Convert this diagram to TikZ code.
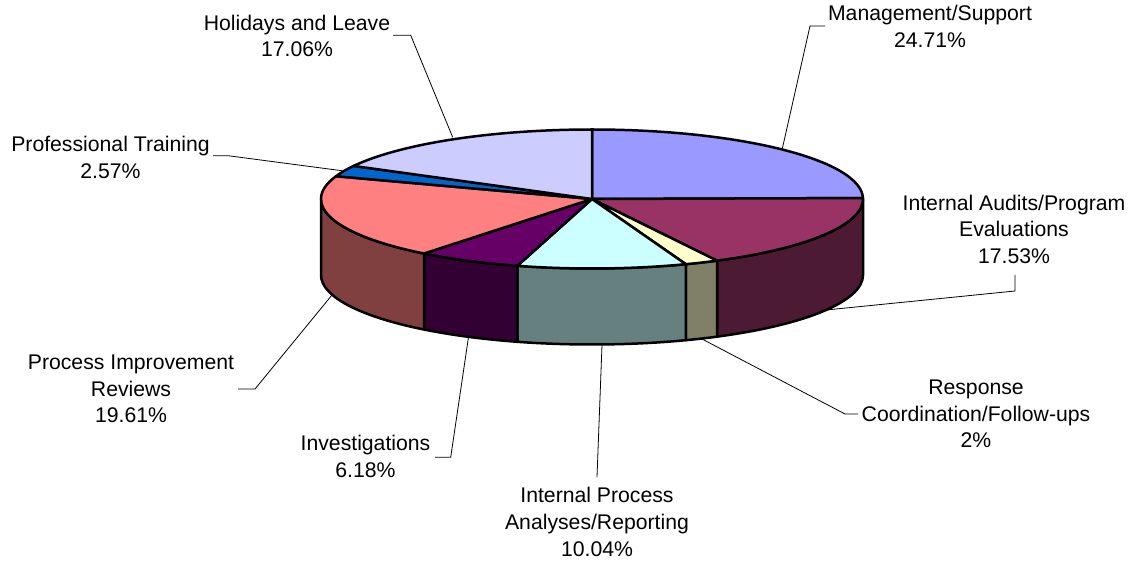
\documentclass[tikz,border=0pt]{standalone}
\usepackage{fontspec}
\setmainfont{Liberation Sans}
\definecolor{mgT}{HTML}{9999FF}
\definecolor{iaT}{HTML}{993366}
\definecolor{iaS}{HTML}{4D1A33}
\definecolor{rsT}{HTML}{FFFFCC}
\definecolor{rsS}{HTML}{808066}
\definecolor{ipT}{HTML}{CCFFFF}
\definecolor{ipS}{HTML}{668080}
\definecolor{ivT}{HTML}{660066}
\definecolor{ivS}{HTML}{330033}
\definecolor{prT}{HTML}{FF8080}
\definecolor{prS}{HTML}{804040}
\definecolor{ptT}{HTML}{0066CC}
\definecolor{hlT}{HTML}{CCCCFF}
\begin{document}
\begin{tikzpicture}[x=1pt,y=1pt,
  slice/.style={draw=black, line width=2.5pt, line join=round},
  leader/.style={draw=black, line width=0.8pt},
  lbl/.style={font=\fontsize{21.2}{26.8}\selectfont, align=center, inner sep=0pt, anchor=north},
  ell/.style={x radius=271, y radius=69.5}]
\useasboundingbox (0,0) rectangle (1131,560);
\coordinate (C) at (592,361);
% side faces
\path[slice, fill=iaS] (C) ++(0:271 and 69.5) arc[start angle=0, end angle=-62.52, ell] -- ++(0,-76) arc[start angle=-62.52, end angle=0, ell] -- cycle;
\path[slice, fill=rsS] (C) ++(-62.52:271 and 69.5) arc[start angle=-62.52, end angle=-69.74, ell] -- ++(0,-76) arc[start angle=-69.74, end angle=-62.52, ell] -- cycle;
\path[slice, fill=ipS] (C) ++(-69.74:271 and 69.5) arc[start angle=-69.74, end angle=-105.99, ell] -- ++(0,-76) arc[start angle=-105.99, end angle=-69.74, ell] -- cycle;
\path[slice, fill=ivS] (C) ++(-105.99:271 and 69.5) arc[start angle=-105.99, end angle=-128.31, ell] -- ++(0,-76) arc[start angle=-128.31, end angle=-105.99, ell] -- cycle;
\path[slice, fill=prS] (C) ++(-128.31:271 and 69.5) arc[start angle=-128.31, end angle=-180, ell] -- ++(0,-76) arc[start angle=-180, end angle=-128.31, ell] -- cycle;
% top faces
\path[slice, fill=mgT] (C) -- ++(90:271 and 69.5) arc[start angle=90, end angle=0.78, ell] -- cycle;
\path[slice, fill=iaT] (C) -- ++(0.78:271 and 69.5) arc[start angle=0.78, end angle=-62.52, ell] -- cycle;
\path[slice, fill=rsT] (C) -- ++(-62.52:271 and 69.5) arc[start angle=-62.52, end angle=-69.74, ell] -- cycle;
\path[slice, fill=ipT] (C) -- ++(-69.74:271 and 69.5) arc[start angle=-69.74, end angle=-105.99, ell] -- cycle;
\path[slice, fill=ivT] (C) -- ++(-105.99:271 and 69.5) arc[start angle=-105.99, end angle=-128.31, ell] -- cycle;
\path[slice, fill=prT] (C) -- ++(-128.31:271 and 69.5) arc[start angle=-128.31, end angle=-199.12, ell] -- cycle;
\path[slice, fill=ptT] (C) -- ++(-199.12:271 and 69.5) arc[start angle=-199.12, end angle=-208.40, ell] -- cycle;
\path[slice, fill=hlT] (C) -- ++(-208.40:271 and 69.5) arc[start angle=-208.40, end angle=-270, ell] -- cycle;
% labels
\node[lbl] (mgL) at (930,554.7) {Management/Support\\24.71\%};
\node[lbl] (iaL) at (1014,365.4) {Internal Audits/Program\\Evaluations\\17.53\%};
\node[lbl] (rsL) at (976,180.4) {Response\\Coordination/Follow-ups\\2\%};
\node[lbl] (ipL) at (597,72.7) {Internal Process\\Analyses/Reporting\\10.04\%};
\node[lbl] (ivL) at (365.5,124.7) {Investigations\\6.18\%};
\node[lbl] (prL) at (131,205.4) {Process Improvement\\Reviews\\19.61\%};
\node[lbl] (ptL) at (110.5,423.7) {Professional Training\\2.57\%};
\node[lbl] (hlL) at (297,545.4) {Holidays and Leave\\17.06\%};
% leader points
\coordinate (mgA) at (825,534); \coordinate (mgB) at (810,534); \coordinate (mgP) at (782,410);
\coordinate (iaA) at (1015,285); \coordinate (iaB) at (1015,269); \coordinate (iaP) at (826,250);
\coordinate (rsA) at (858,146); \coordinate (rsB) at (845,146); \coordinate (rsP) at (702,221);
\coordinate (ipA) at (597,83); \coordinate (ipP) at (602,215);
\coordinate (ivA) at (435,102.7); \coordinate (ivB) at (450.7,102.7); \coordinate (ivP) at (468.5,223);
\coordinate (prA) at (238,171); \coordinate (prB) at (255,171); \coordinate (prP) at (332,265);
\coordinate (ptA) at (213,404.3); \coordinate (ptB) at (228,404.3); \coordinate (ptP) at (344,389);
\coordinate (hlA) at (393,524.7); \coordinate (hlB) at (410.7,524.7); \coordinate (hlP) at (452.7,422.7);
\draw[leader] (mgA) -- (mgB) -- (mgP);
\draw[leader] (iaA) -- (iaB) -- (iaP);
\draw[leader] (rsA) -- (rsB) -- (rsP);
\draw[leader] (ipA) -- (ipP);
\draw[leader] (ivA) -- (ivB) -- (ivP);
\draw[leader] (prA) -- (prB) -- (prP);
\draw[leader] (ptA) -- (ptB) -- (ptP);
\draw[leader] (hlA) -- (hlB) -- (hlP);
\end{tikzpicture}
\end{document}
